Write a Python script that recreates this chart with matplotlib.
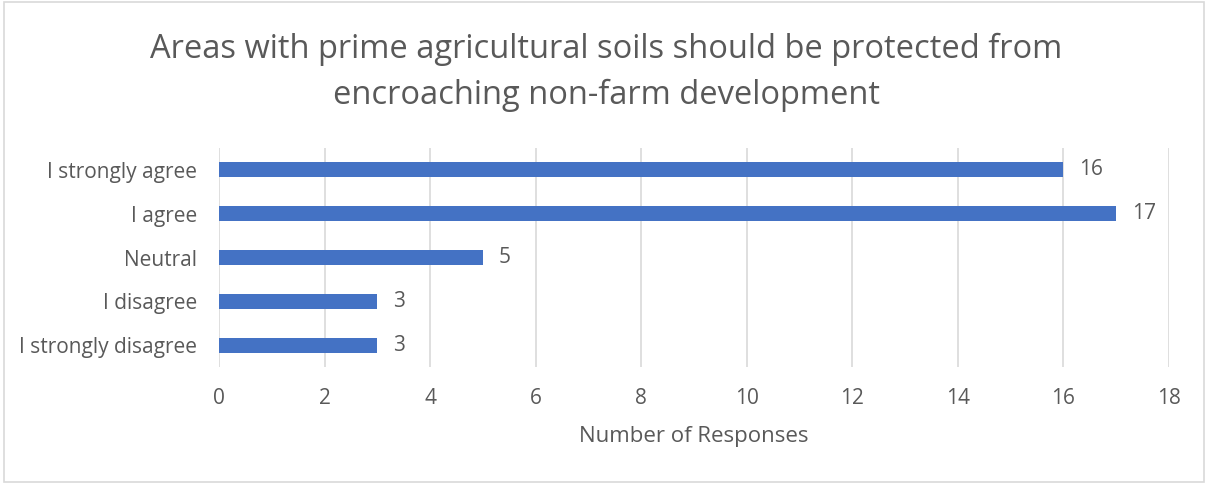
import matplotlib.pyplot as plt
from matplotlib.patches import Rectangle

categories = ["I strongly agree", "I agree", "Neutral", "I disagree", "I strongly disagree"]
responses = [16, 17, 5, 3, 3]
x_ticks = [0, 2, 4, 6, 8, 10, 12, 14, 16, 18]

plt.rcParams['font.family'] = ['Open Sans', 'DejaVu Sans']
text_color = '#595959'
bar_color = '#4472C4'

fig = plt.figure(figsize=(12.08, 4.84), dpi=100)
ax = fig.add_axes([0.1813, 0.2417, 0.7864, 0.4525])

# outer frame
fig.patches.append(Rectangle((0.003, 0.004), 0.994, 0.992, transform=fig.transFigure,
                             fill=False, edgecolor='#D9D9D9', linewidth=1.2))

ypos = list(range(len(categories)))[::-1]
ax.barh(ypos, responses, height=0.34, color=bar_color, zorder=3)
for y, v in zip(ypos, responses):
    ax.text(v + 0.3, y, str(v), va='center', ha='left', fontsize=15, color=text_color)

ax.set_xlim(0, 18)
ax.set_ylim(-0.5, len(categories) - 0.5)
ax.set_xticks(x_ticks)
ax.set_yticks(ypos)
ax.set_yticklabels(categories)
ax.tick_params(axis='both', length=0, labelsize=15, labelcolor=text_color)
ax.tick_params(axis='y', pad=16)
ax.tick_params(axis='x', pad=15)
ax.grid(axis='x', color='#D9D9D9', linewidth=1.2, zorder=0)
for s in ax.spines.values():
    s.set_visible(False)

ax.set_xlabel("Number of Responses", fontsize=16, color=text_color, labelpad=12)
fig.text(0.502, 0.85, "Areas with prime agricultural soils should be protected from\nencroaching non-farm development",
         ha='center', va='center', fontsize=23.5, color=text_color, linespacing=1.5)

fig.savefig("out.png", dpi=100)
